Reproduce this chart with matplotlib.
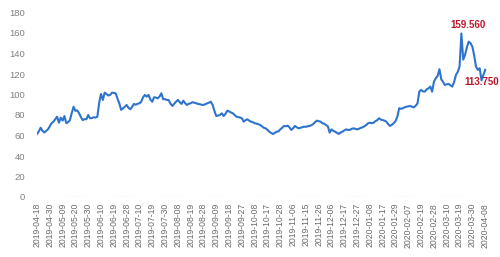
import matplotlib
matplotlib.use("Agg")
import matplotlib.pyplot as plt

# values, one per trading day
values = [
    61.5, 64, 67.6, 64.5, 63, 64.5, 66, 69, 72, 73.5,
    76, 78.4, 72.5, 77.4, 74.5, 79, 72, 73, 75, 82,
    88, 84, 84.5, 81.7, 78, 75, 76, 75.8, 80, 76.8,
    77, 77.8, 77.5, 78.4, 92, 100.5, 94.7, 101.8, 100.5, 99,
    99.6, 101.8, 101.5, 101.2, 96, 91.4, 85, 86.5, 88, 89.8,
    87, 85.6, 88, 90.8, 90, 91, 91.4, 93, 97.3, 99.6,
    97.9, 99.6, 95, 93, 97.3, 97, 96.3, 98, 101.2, 95.3,
    95.5, 94.7, 94.5, 91, 88.8, 91, 93, 94.7, 92.5, 90.8,
    94, 91.5, 89.8, 91, 91.4, 92.5, 92, 91.5, 90.8, 90.5,
    90, 89.8, 90.5, 91.4, 92, 93, 89.8, 84, 79, 79.5,
    80, 81.7, 79, 81, 84.2, 83.5, 82.5, 81.7, 80, 78.4,
    78, 77.5, 76.8, 73.5, 75, 75.8, 74.5, 73.5, 73, 72,
    71.5, 71, 70.3, 69, 67.5, 67, 65.5, 63.7, 62.5, 61.5,
    62.5, 63.7, 64, 66, 67.5, 69.3, 69, 69.6, 68, 65.4,
    67, 69.3, 68, 67, 67.5, 68, 68.6, 68.5, 69, 69.3,
    70, 71.2, 73, 74.5, 74, 73.5, 72, 71.5, 70.3, 69,
    62.8, 66, 64.5, 63.7, 62.5, 61.5, 63, 63.7, 65, 66,
    65.5, 65.4, 66.5, 67, 66.5, 66, 66.5, 67.5, 68, 69,
    70.3, 72, 72.5, 72, 72.5, 74, 75, 76.8, 75.5, 75,
    74.5, 73.5, 71, 69.3, 70.5, 72, 74, 78.4, 86.6, 86,
    86.6, 87.5, 88.1, 88.5, 88.8, 88, 87.5, 89, 91.4, 102.8,
    104.4, 103, 102.8, 105, 106, 107.7, 102.8, 112.5, 115.9, 118,
    124.7, 114.9, 112, 109.3, 110, 110.3, 109, 107.7, 112, 119,
    122, 127.2, 159.56, 134, 138.6, 146, 151.6, 150, 146.7, 138,
    127.2, 124, 125.6, 113.75, 119, 124,
]

tick_labels = [
    "2019-04-18", "2019-04-30", "2019-05-09", "2019-05-20", "2019-05-30",
    "2019-06-10", "2019-06-19", "2019-06-28", "2019-07-10", "2019-07-19",
    "2019-07-30", "2019-08-08", "2019-08-19", "2019-08-28", "2019-09-09",
    "2019-09-18", "2019-09-27", "2019-10-08", "2019-10-17", "2019-10-28",
    "2019-11-06", "2019-11-15", "2019-11-26", "2019-12-06", "2019-12-17",
    "2019-12-27", "2020-01-08", "2020-01-17", "2020-01-29", "2020-02-07",
    "2020-02-19", "2020-02-28", "2020-03-10", "2020-03-19", "2020-03-30",
    "2020-04-08",
]
label_step = 7

plt.rcParams['font.family'] = ['Liberation Sans', 'DejaVu Sans']

fig = plt.figure(figsize=(5, 2.57), dpi=100)
ax = fig.add_axes([37 / 500, 1 - 197 / 257, 450 / 500, 184.5 / 257])

x = list(range(len(values)))
ax.plot(x, values, color='#2f74cc', linewidth=1.5, zorder=3)

# data labels: maximum and minimum of the tail
i_max = values.index(max(values))
i_min = len(values) - 3
ax.annotate(f"{values[i_max]:.3f}", (i_max, values[i_max]), xytext=(4.8, 2.5),
            textcoords='offset points', ha='center', va='bottom',
            fontsize=7, fontweight='bold', color='#c0142a', zorder=4)
ax.annotate(f"{values[i_min]:.3f}", (i_min, values[i_min]), xytext=(0, -1),
            textcoords='offset points', ha='center', va='center',
            fontsize=7, fontweight='bold', color='#c0142a', zorder=4)

ax.set_xlim(0, 246)
ax.set_ylim(0, 180)
ax.set_yticks(range(0, 181, 20))
ax.set_xticks(range(0, len(tick_labels) * label_step, label_step))
ax.set_xticklabels(tick_labels, rotation=90)

ax.axhline(0, color='#a9dbe6', linewidth=0.9, linestyle=(0, (2, 1.5)), zorder=1)
for s in ax.spines.values():
    s.set_visible(False)
ax.tick_params(axis='y', length=0, pad=8.5, labelsize=6.8, labelcolor='#808080')
ax.tick_params(axis='x', length=0, pad=4.3, labelsize=6.2, labelcolor='#6a6a6a')

fig.savefig("out.png", dpi=100)
